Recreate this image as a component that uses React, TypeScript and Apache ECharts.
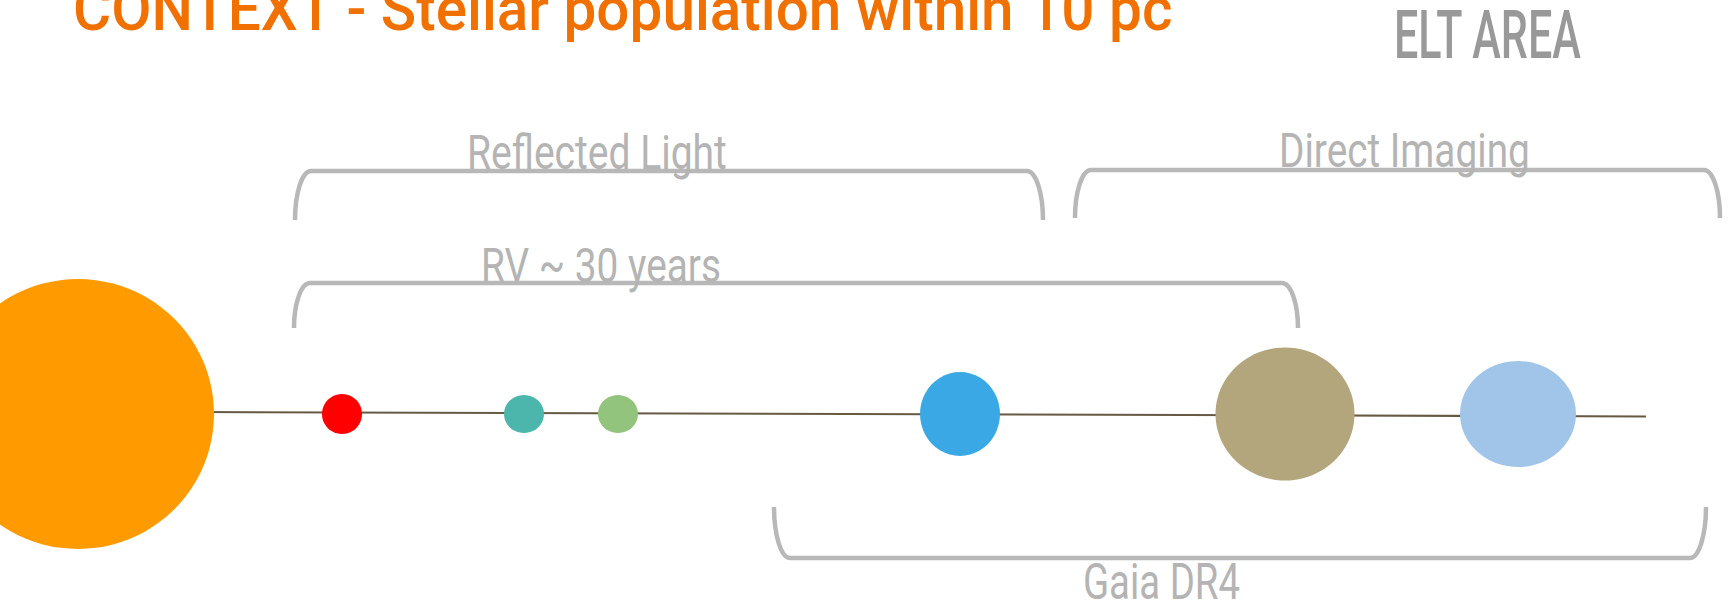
import React, { useEffect, useRef } from "react";
import * as echarts from "echarts";

const W = 1728;
const H = 605;

// ---- data -------------------------------------------------------------
const titleText = "CONTEXT - Stellar population within 10 pc";
const areaText = "ELT AREA";

// stars along the line (position on the schematic axis, diameter in axis units)
const starPosition = [78, 342, 524, 618, 960, 1285, 1518];
const starWidth = [272, 40, 40, 40, 80, 139, 116];
const starHeight = [270, 40, 38, 38, 84, 133, 106];
const starLevel = 414;

// the connecting line
const lineX = [78, 1646];
const lineY = [411.6, 416.5];

// technique brackets
const bracketLabels = ["Reflected Light", "Direct Imaging", "RV ~ 30 years", "Gaia DR4"];
const bracketStart = [295, 1075, 294, 774];
const bracketEnd = [1043, 1720, 1298, 1706];
const bracketBarY = [171, 170, 283, 558];
const bracketTipY = [220, 218, 328, 507];

// ---- layout / style ---------------------------------------------------
const starColors = ["#FF9B00", "#FF0000", "#4DB6AC", "#93C47D", "#39A8E5", "#B3A67C", "#A0C5E8"];
const labelLeft = [467, 1279, 481, 1083];
const labelRight = [727, 1530, 721, 1240];
const labelBaseline = [169, 167, 282, 599];
const labelSize = [48, 48, 48, 50];
const BRACKET = "#b8b8b8";
const LABEL = "#b4b4b4";
const FAM = 'Roboto, "Liberation Sans", sans-serif';
const CENTRAL = 0.342; // central baseline offset (em) above alphabetic baseline

export default function App() {
  const ref = useRef<HTMLDivElement>(null);

  useEffect(() => {
    document.body.style.margin = "0";
    document.body.style.overflow = "hidden";
    const chart = echarts.init(ref.current!, null, { renderer: "svg" });
    const ctx = document.createElement("canvas").getContext("2d")!;
    const fit = (text: string, size: number, weight: number | string, width: number) => {
      ctx.font = `${weight} ${size}px ${FAM}`;
      return width / ctx.measureText(text).width;
    };

    const titleSize = 62;
    const areaSize = 67;

    const option: any = {
      animation: false,
      grid: { left: 0, right: 0, top: 0, bottom: 0 },
      xAxis: { type: "value", min: 0, max: W, show: false },
      yAxis: { type: "value", min: 0, max: H, inverse: true, show: false },
      graphic: [
        {
          type: "text",
          x: 73,
          y: 30 - CENTRAL * titleSize,
          scaleX: fit(titleText, titleSize, 500, 1101),
          style: {
            text: titleText,
            fill: "#F07000",
            fontSize: titleSize,
            fontFamily: FAM,
            fontWeight: 500,
            align: "left",
            verticalAlign: "middle",
          },
        },
        {
          type: "text",
          x: 1394,
          y: 58 - CENTRAL * areaSize,
          scaleX: fit(areaText, areaSize, 500, 188),
          style: {
            text: areaText,
            fill: "#999999",
            fontSize: areaSize,
            fontFamily: FAM,
            fontWeight: 500,
            align: "left",
            verticalAlign: "middle",
          },
        },
      ],
      series: [
        {
          type: "line",
          silent: true,
          z: 1,
          symbol: "none",
          data: lineX.map((x, i) => [x, lineY[i]]),
          lineStyle: { color: "#665a44", width: 2 },
        },
        {
          type: "scatter",
          silent: true,
          z: 2,
          symbol: "circle",
          data: starPosition.map((x, i) => ({
            value: [x, starLevel],
            symbolSize: [starWidth[i], starHeight[i]],
            itemStyle: { color: starColors[i], opacity: 1 },
          })),
        },
        {
          type: "custom",
          silent: true,
          z: 3,
          encode: { x: [0, 2], y: [1, 3] },
          data: bracketLabels.map((_, i) => [bracketStart[i], bracketBarY[i], bracketEnd[i], bracketTipY[i], i]),
          renderItem: (params: any, api: any) => {
            const i = api.value(4) as number;
            const [x0, yb] = api.coord([api.value(0), api.value(1)]);
            const [x1, yt] = api.coord([api.value(2), api.value(3)]);
            const rx = 16;
            const k = 0.5523;
            const h = yt - yb;
            const d =
              `M${x0},${yt} C${x0},${yt - k * h} ${x0 + rx - k * rx},${yb} ${x0 + rx},${yb} ` +
              `L${x1 - rx},${yb} C${x1 - rx + k * rx},${yb} ${x1},${yt - k * h} ${x1},${yt}`;
            const [lx0, lb] = api.coord([labelLeft[i], labelBaseline[i]]);
            const [lx1] = api.coord([labelRight[i], labelBaseline[i]]);
            const size = labelSize[i];
            const label = bracketLabels[i];
            return {
              type: "group",
              children: [
                {
                  type: "path",
                  shape: { pathData: d },
                  style: { fill: "none", stroke: BRACKET, lineWidth: 4.5 },
                },
                {
                  type: "text",
                  x: lx0,
                  y: lb - CENTRAL * size,
                  scaleX: fit(label, size, 400, lx1 - lx0),
                  style: {
                    text: label,
                    fill: LABEL,
                    fontSize: size,
                    fontFamily: FAM,
                    fontWeight: 400,
                    align: "left",
                    verticalAlign: "middle",
                  },
                },
              ],
            };
          },
        },
      ],
    };

    chart.setOption(option);
    return () => chart.dispose();
  }, []);

  return <div ref={ref} style={{ width: W, height: H }} />;
}
